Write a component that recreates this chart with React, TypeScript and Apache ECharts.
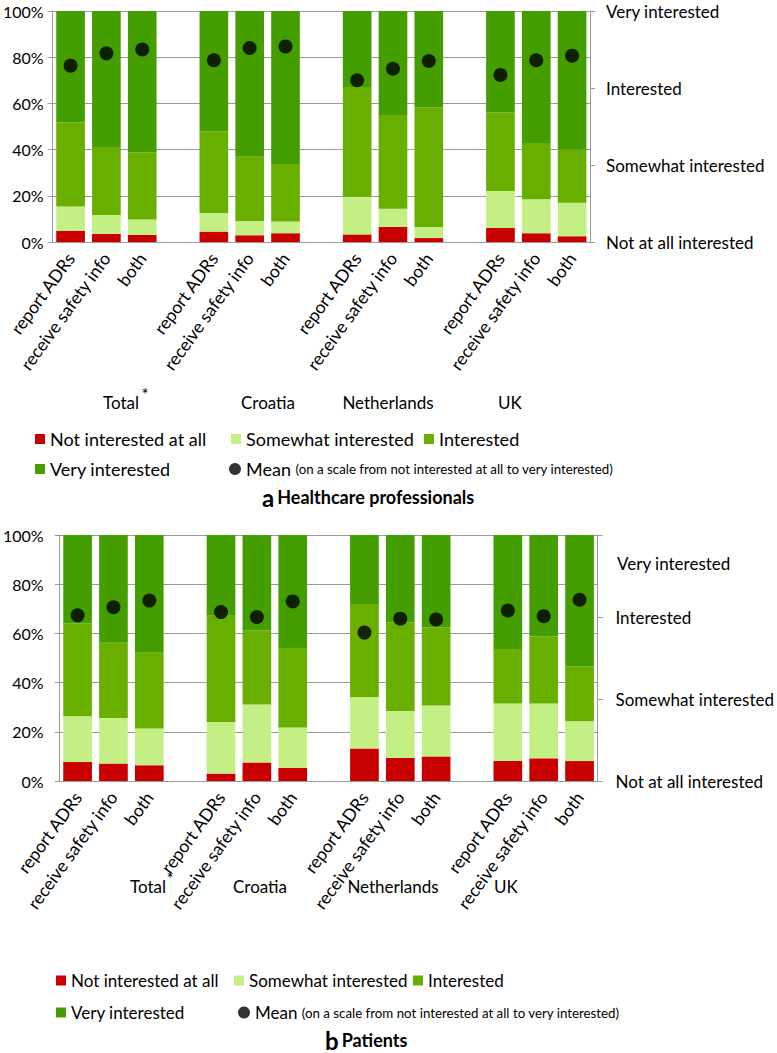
import React, { useEffect, useRef } from "react";
import * as echarts from "echarts";

const FONT = "Lato";

const groups = ["Total", "Croatia", "Netherlands", "UK"];
const items = ["report ADRs", "receive safety info", "both"];
const scaleLabels = ["Not at all interested", "Somewhat interested", "Interested", "Very interested"];
const seriesNames = ["Not interested at all", "Somewhat interested", "Interested", "Very interested", "Mean"];

// a Healthcare professionals (percent per segment)
const hcpNotAtAll = [4.9, 3.5, 3.0, 4.5, 2.9, 3.8, 3.3, 6.5, 1.7, 6.1, 3.8, 2.5];
const hcpSomewhat = [10.5, 8.2, 6.7, 8.1, 6.2, 5.1, 16.3, 7.9, 4.8, 16.0, 14.7, 14.5];
const hcpInterested = [36.4, 29.4, 29.0, 35.3, 27.8, 24.9, 47.5, 40.6, 51.7, 34.0, 24.4, 23.0];
const hcpVery = [48.2, 58.9, 61.3, 52.1, 63.1, 66.2, 32.9, 45.0, 41.8, 43.9, 57.1, 60.0];
const hcpMean = [3.29, 3.45, 3.5, 3.36, 3.52, 3.54, 3.1, 3.25, 3.35, 3.17, 3.36, 3.42];

// b Patients
const patNotAtAll = [7.7, 7.1, 6.4, 3.0, 7.5, 5.3, 13.2, 9.4, 10.0, 8.1, 9.2, 8.1];
const patSomewhat = [18.6, 18.5, 14.9, 21.0, 23.6, 16.4, 20.9, 19.1, 20.7, 23.4, 22.3, 16.2];
const patInterested = [37.7, 30.6, 30.8, 43.2, 30.2, 32.4, 37.9, 36.0, 31.7, 22.2, 27.3, 22.2];
const patVery = [36.0, 43.8, 47.9, 32.8, 38.7, 45.9, 28.0, 35.5, 37.6, 46.3, 41.2, 53.5];
const patMean = [3.02, 3.12, 3.2, 3.06, 3.0, 3.19, 2.81, 2.98, 2.97, 3.08, 3.01, 3.21];

const COLORS = ["#C80000", "#C4EF84", "#68AF00", "#459E00", "#000000"];

function pad(arr: number[]): (number | string)[] {
  const out: (number | string)[] = [];
  groups.forEach((_, g) => {
    if (g > 0) out.push("-");
    for (let i = 0; i < items.length; i++) out.push(arr[g * items.length + i]);
  });
  return out;
}

function buildCats(): string[] {
  const out: string[] = [];
  groups.forEach((_, g) => {
    if (g > 0) out.push("");
    items.forEach((it) => out.push(it));
  });
  return out;
}

const xCats = buildCats();

export default function App() {
  const ref = useRef<HTMLDivElement>(null);
  useEffect(() => {
    if (!ref.current) return;
    const chart = echarts.init(ref.current, null, { renderer: "svg" });
    const axisGray = "#9a9a9a";

    const xAxisBase = (gi: number) => ({
      gridIndex: gi,
      type: "category",
      data: xCats,
      axisLine: { lineStyle: { color: axisGray } },
      axisTick: { show: false },
      axisLabel: { interval: 0, rotate: 54, fontSize: 17.5, color: "#000", margin: 13, fontFamily: FONT },
    });
    const leftY = (gi: number, margin: number) => ({
      gridIndex: gi,
      type: "value",
      min: 0,
      max: 100,
      interval: 20,
      axisLine: { show: true, lineStyle: { color: axisGray } },
      axisTick: { show: true, length: 5, lineStyle: { color: axisGray } },
      splitLine: { lineStyle: { color: axisGray } },
      axisLabel: { formatter: "{value}%", fontSize: 16, color: "#000", margin, fontFamily: FONT },
    });
    const rightY = (gi: number, hideTop: boolean, margin: number) => ({
      gridIndex: gi,
      type: "value",
      position: "right",
      min: 1,
      max: 4,
      interval: 1,
      axisLine: { show: true, lineStyle: { color: axisGray } },
      axisTick: { show: true, length: 5, lineStyle: { color: axisGray } },
      splitLine: { show: false },
      axisLabel: {
        formatter: (v: number) => (hideTop && v === 4 ? "" : scaleLabels[Math.round(v) - 1]),
        fontSize: 17,
        color: "#000",
        margin,
        fontFamily: FONT,
      },
    });

    const makeSeries = (gi: number, stack: string, data: number[][], mean: number[]) => {
      const s: any[] = data.map((d, k) => ({
        name: seriesNames[k],
        type: "bar",
        stack,
        xAxisIndex: gi,
        yAxisIndex: gi * 2,
        barWidth: "80%",
        itemStyle: { color: COLORS[k] },
        data: pad(d),
      }));
      s.push({
        name: seriesNames[4],
        type: "scatter",
        xAxisIndex: gi,
        yAxisIndex: gi * 2 + 1,
        symbolSize: 14,
        itemStyle: { color: COLORS[4] },
        data: pad(mean),
        z: 5,
      });
      return s;
    };

    const legendItem = (name: string, left: number, top: number, size: number) => ({
      data: [name],
      left,
      top,
      padding: 0,
      icon: name === "Mean" ? "circle" : "rect",
      itemWidth: name === "Mean" ? 12 : 10,
      itemHeight: name === "Mean" ? 12 : 10,
      selectedMode: false,
      formatter: name === "Mean" ? "Mean {s|(on a scale from not interested at all to very interested)}" : "{name}",
      textStyle: {
        fontSize: size,
        color: "#000",
        fontFamily: FONT,
        rich: { s: { fontSize: 13.3, color: "#000", fontFamily: FONT } },
      },
    });

    const legendRows = (r1: number, r2: number, xs: number[], size: number) => [
      legendItem(seriesNames[0], xs[0], r1 - 10, size),
      legendItem(seriesNames[1], xs[1], r1 - 10, size),
      legendItem(seriesNames[2], xs[2], r1 - 10, size),
      legendItem(seriesNames[3], xs[0], r2 - 10, size),
      legendItem(seriesNames[4], xs[3], r2 - 10, size),
    ];

    const txt = (text: string, x: number, y: number, size = 16, align = "center", weight = "normal") => ({
      type: "text",
      x,
      y,
      style: { text, fontSize: size, fontFamily: FONT, fill: "#000", align, verticalAlign: "middle", fontWeight: weight },
    });

    const title = (letter: string, t: string, x: number, y: number) => ({
      type: "text",
      x,
      y,
      style: {
        text: `{a|${letter}} {t|${t}}`,
        fontFamily: FONT,
        verticalAlign: "middle",
        rich: {
          a: { fontSize: 24, fontWeight: "bold", fill: "#000", fontFamily: FONT },
          t: { fontSize: 18, fontWeight: "bold", fill: "#000", fontFamily: FONT },
        },
      },
    });

    const option: any = {
      animation: false,
      backgroundColor: "#fff",
      textStyle: { fontFamily: FONT },
      grid: [
        { left: 52, right: 187, top: 11, height: 231 },
        { left: 59, right: 177.5, top: 535, height: 246 },
      ],
      xAxis: [xAxisBase(0), xAxisBase(1)],
      yAxis: [leftY(0, 9), rightY(0, false, 16), leftY(1, 16), rightY(1, true, 18)],
      legend: [
        ...legendRows(440, 470, [35, 231, 424, 229], 18),
        ...legendRows(982, 1014, [56, 234, 413, 238], 17),
      ],
      series: [
        ...makeSeries(0, "hcp", [hcpNotAtAll, hcpSomewhat, hcpInterested, hcpVery], hcpMean),
        ...makeSeries(1, "pat", [patNotAtAll, patSomewhat, patInterested, patVery], patMean),
      ],
      graphic: [
        txt(groups[0], 121, 402, 17),
        txt("*", 145, 394, 17),
        txt(groups[1], 268, 402, 17),
        txt(groups[2], 388, 402, 17),
        txt(groups[3], 510, 402, 17),
        txt(groups[0], 148, 886, 17),
        txt("*", 170, 878, 17),
        txt(groups[1], 260, 886, 17),
        txt(groups[2], 393, 886, 17),
        txt(groups[3], 506, 886, 17),
        txt(scaleLabels[3], 617, 563, 17, "left"),
        title("a", "Healthcare professionals", 262, 497),
        title("b", "Patients", 325, 1040),
      ],
    };
    chart.setOption(option);
    return () => chart.dispose();
  }, []);
  return <div ref={ref} style={{ position: "absolute", left: 0, top: 0, width: 777, height: 1053 }} />;
}
